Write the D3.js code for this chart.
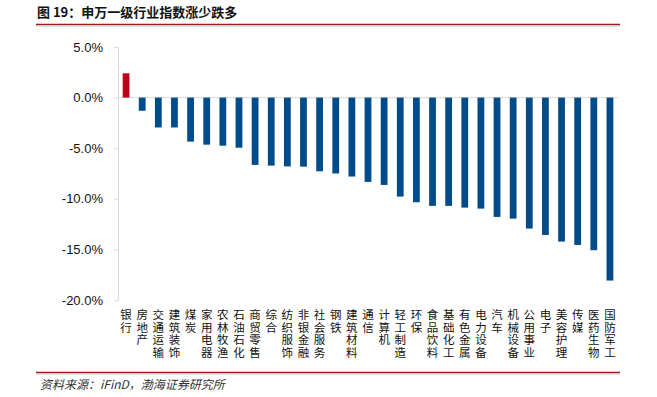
<!DOCTYPE html>
<html>
<head>
<meta charset="utf-8">
<script src="https://cdn.jsdelivr.net/npm/d3@7"></script>
<style>
  body { margin: 0; background: #fff; }
  svg { display: block; }
</style>
</head>
<body>
<svg></svg>
<script>
// 申万一级行业指数涨跌幅

var industries = ["银行","房地产","交通运输","建筑装饰","煤炭","家用电器","农林牧渔","石油石化",
  "商贸零售","综合","纺织服饰","非银金融","社会服务","钢铁","建筑材料","通信","计算机",
  "轻工制造","环保","食品饮料","基础化工","有色金属","电力设备","汽车","机械设备",
  "公用事业","电子","美容护理","传媒","医药生物","国防军工"];

var changes = [2.4,-1.3,-2.95,-2.95,-4.35,-4.65,-4.75,-4.95,
  -6.65,-6.72,-6.8,-6.82,-7.28,-7.5,-7.8,-8.33,-8.63,
  -9.78,-10.34,-10.7,-10.7,-10.87,-10.97,-11.79,-11.96,
  -12.94,-13.57,-14.23,-14.56,-15.08,-18.08];

var yTicks = [5,0,-5,-10,-15,-20];

var svgWidth=657,svgHeight=397;
var plotLeft=118,plotRight=618,plotTop=47,plotBottom=300;

var svg=d3.select("svg")
    .attr("width",svgWidth)
    .attr("height",svgHeight);

// title + rules
svg.append("text")
  .attr("x",37).attr("y",17)
  .attr("font-family","Noto Sans CJK SC")
  .attr("font-weight","bold")
  .attr("font-size",13)
  .attr("fill","#111")
  .text("图 19：申万一级行业指数涨少跌多");

svg.append("line").attr("x1",36).attr("x2",620).attr("y1",24.5).attr("y2",24.5)
  .attr("stroke","#a01c1c").attr("stroke-width",1.5);
svg.append("line").attr("x1",36).attr("x2",620).attr("y1",26).attr("y2",26)
  .attr("stroke","#c8c8c8").attr("stroke-width",1);

svg.append("line").attr("x1",36).attr("x2",620).attr("y1",372.5).attr("y2",372.5)
  .attr("stroke","#a01c1c").attr("stroke-width",1.5);
svg.append("line").attr("x1",36).attr("x2",620).attr("y1",374).attr("y2",374)
  .attr("stroke","#c8c8c8").attr("stroke-width",1);

svg.append("text")
  .attr("x",40).attr("y",389)
  .attr("font-family","Noto Sans CJK SC")
  .attr("font-style","italic")
  .attr("font-size",12)
  .attr("fill","#333")
  .text("资料来源：iFinD，渤海证券研究所");

var xscale=d3.scaleBand()
  .domain(industries)
  .range([plotLeft,plotRight])
  .paddingInner(0.58)
  .paddingOuter(0.29);

var yscale=d3.scaleLinear()
  .domain([-20,5])
  .range([plotBottom,plotTop]);

// y axis
var yAxis=d3.axisLeft(yscale)
  .tickValues(yTicks)
  .tickSize(4)
  .tickFormat(function(d){ return d.toFixed(1)+"%"; });

var gy=svg.append("g")
  .attr("transform","translate("+plotLeft+",0)")
  .call(yAxis);
gy.select(".domain").attr("stroke","#d9d9d9");
gy.selectAll(".tick line").attr("stroke","#d9d9d9");
gy.selectAll(".tick text")
  .attr("x",-15)
  .attr("font-family","Liberation Sans, Arial")
  .attr("font-size",13)
  .attr("fill","#111");

// zero line
svg.append("line")
  .attr("x1",plotLeft).attr("x2",plotRight)
  .attr("y1",yscale(0)).attr("y2",yscale(0))
  .attr("stroke","#d9d9d9");

svg.selectAll("rect.bar")
  .data(changes)
  .enter()
  .append("rect")
  .attr("class","bar")
  .attr("x",function(d,i){ return xscale(industries[i]); })
  .attr("width",xscale.bandwidth())
  .attr("y",function(d){ return yscale(Math.max(d,0)); })
  .attr("height",function(d){ return Math.abs(yscale(d)-yscale(0)); })
  .attr("fill",function(d){ return d>0 ? "#c0001a" : "#004b8a"; });

// vertical category labels, one character per line
svg.selectAll("g.cat")
  .data(industries)
  .enter()
  .append("g")
  .attr("class","cat")
  .each(function(name){
    var cx=xscale(name)+xscale.bandwidth()/2;
    var g=d3.select(this);
    name.split("").forEach(function(ch,k){
      g.append("text")
        .attr("x",cx)
        .attr("y",319+k*12.5)
        .attr("font-family","Noto Sans CJK SC")
        .attr("font-size",11.5)
        .attr("fill","#111")
        .attr("text-anchor","middle")
        .text(ch);
    });
  });
</script>
</body>
</html>
